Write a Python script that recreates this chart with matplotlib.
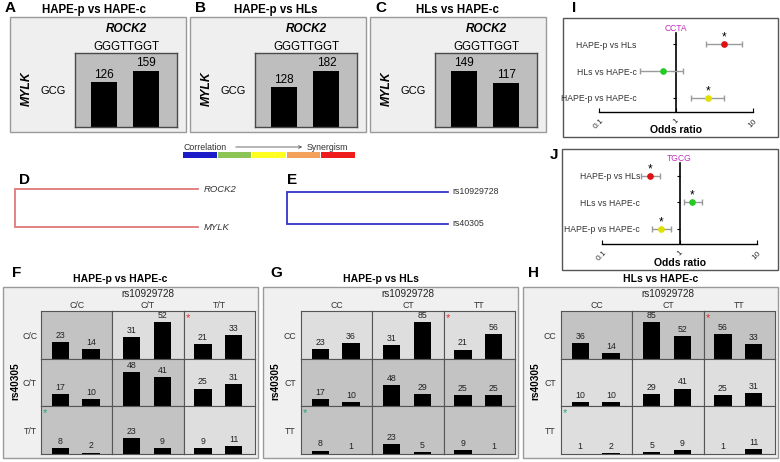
import matplotlib
matplotlib.use("Agg")
import matplotlib.pyplot as plt
from matplotlib.patches import Rectangle
import numpy as np

plt.rcParams['font.family'] = ['Liberation Sans', 'DejaVu Sans']

# ---------------- data ----------------
comparisons = ['HAPE-p vs HAPE-c', 'HAPE-p vs HLs', 'HLs vs HAPE-c']
hap_gene_col = 'ROCK2'
hap_gene_row = 'MYLK'
hap_col = 'GGGTTGGT'
hap_row = 'GCG'
hap_counts = [[126, 159], [128, 182], [149, 117]]

legend_left = 'Correlation'
legend_right = 'Synergism'
legend_colors = ['#1c1cc8', '#8cc455', '#ffff22', '#f4a15c', '#ee1c1c']

tree_D_leaves = ['ROCK2', 'MYLK']
tree_E_leaves = ['rs10929728', 'rs40305']

snp_col = 'rs10929728'
snp_row = 'rs40305'
geno_F = ['C/C', 'C/T', 'T/T']
geno_GH = ['CC', 'CT', 'TT']
counts_F = [[[23, 14], [31, 52], [21, 33]],
            [[17, 10], [48, 41], [25, 31]],
            [[8, 2], [23, 9], [9, 11]]]
counts_G = [[[23, 36], [31, 85], [21, 56]],
            [[17, 10], [48, 29], [25, 25]],
            [[8, 1], [23, 5], [9, 1]]]
counts_H = [[[36, 14], [85, 52], [56, 33]],
            [[10, 10], [29, 41], [25, 31]],
            [[1, 2], [5, 9], [1, 11]]]
shade_F = [[1, 0, 0], [1, 1, 0], [1, 1, 0]]
shade_G = [[0, 0, 0], [1, 1, 1], [1, 1, 1]]
shade_H = [[1, 1, 1], [0, 0, 0], [0, 0, 0]]

or_labels = ['HAPE-p vs HLs', 'HLs vs HAPE-c', 'HAPE-p vs HAPE-c']
or_colors = ['#e01010', '#22cc22', '#e0e000']
I_title = 'CCTA'
I_or = [4.2, 0.68, 2.6]
I_lo = [2.45, 0.34, 1.57]
I_hi = [7.2, 1.23, 4.2]
I_sig = [True, False, True]
J_title = 'TGCG'
J_or = [0.42, 1.45, 0.58]
J_lo = [0.32, 1.14, 0.44]
J_hi = [0.56, 1.95, 0.78]
J_sig = [True, True, True]
or_ticks = [0.1, 1, 10]
or_ticklabels = ['0.1', '1', '10']

# ---------------- helpers ----------------
W, H = 780, 462
fig = plt.figure(figsize=(7.8, 4.62), dpi=100)


def axes_px(x0, y0, x1, y1, **kw):
    return fig.add_axes([x0 / W, 1 - y1 / H, (x1 - x0) / W, (y1 - y0) / H], **kw)


def box_px(x0, y0, x1, y1, fc, ec, lw=1.0, z=0):
    fig.add_artist(Rectangle((x0 / W, 1 - y1 / H), (x1 - x0) / W, (y1 - y0) / H,
                             transform=fig.transFigure, facecolor=fc,
                             edgecolor=ec, lw=lw, zorder=z))


def txt(x, y, s, **kw):
    kw.setdefault('ha', 'center')
    kw.setdefault('va', 'center')
    fig.text(x / W, 1 - y / H, s, **kw)


def clean(ax):
    ax.set_xticks([])
    ax.set_yticks([])


# ---------------- panels A-C ----------------
letters_abc = ['A', 'B', 'C']
abc_x0 = [10, 190, 370]
abc_letter_x = [5, 195, 375]
abc_title_x = [94, 276, 458]
for k in range(3):
    x0 = abc_x0[k]
    box_px(x0, 17, x0 + 176, 132, '#efefef', '#9a9a9a', 1.0)
    txt(abc_letter_x[k], 8, letters_abc[k], ha='left', fontsize=11, fontweight='bold')
    txt(abc_title_x[k], 10, comparisons[k], fontsize=8.3, fontweight='bold')
    txt(x0 + 116, 29, hap_gene_col, fontsize=8.5, fontweight='bold', style='italic')
    txt(x0 + 116, 47, hap_col, fontsize=8.3)
    txt(x0 + 17, 89, hap_gene_row, fontsize=8.8, fontweight='bold', style='italic', rotation=90)
    txt(x0 + 43, 91, hap_row, fontsize=8)
    ax = axes_px(x0 + 65, 53, x0 + 167, 127)
    ax.set_facecolor('#bebebe')
    for s in ax.spines.values():
        s.set_color('#4a4a4a')
        s.set_linewidth(1.0)
    vals = hap_counts[k]
    ax.bar([0, 1], vals, width=0.607, color='black')
    ax.set_xlim(-0.667, 1.714)
    ax.set_ylim(0, max(vals) * 1.31)
    for i, v in enumerate(vals):
        ax.annotate(str(v), (i, v), xytext=(0, 1), textcoords='offset points',
                    ha='center', va='bottom', fontsize=8.5)
    clean(ax)

# ---------------- colour legend ----------------
txt(183, 147, legend_left, ha='left', fontsize=6.3, color='#333333')
txt(348, 147, legend_right, ha='right', fontsize=6.3, color='#333333')
fig.add_artist(matplotlib.patches.FancyArrowPatch(
    (233 / W, 1 - 147 / H), (305 / W, 1 - 147 / H), transform=fig.transFigure,
    arrowstyle='->', mutation_scale=5, lw=0.6, color='#555555'))
axl = axes_px(183, 152, 356, 158)
axl.bar(np.arange(len(legend_colors)), [1] * len(legend_colors), width=0.97,
        color=legend_colors, align='edge')
axl.set_xlim(0, len(legend_colors))
axl.set_ylim(0, 1)
axl.axis('off')

# ---------------- panels D, E (trees) ----------------
txt(19, 180, 'D', ha='left', fontsize=11, fontweight='bold')
axd = axes_px(15, 189, 198, 227)
axd.plot([1, 0, 0, 1], [1, 1, 0, 0], color='#e07878', lw=1.3, clip_on=False,
         solid_joinstyle='miter')
axd.set_xlim(0, 1)
axd.set_ylim(0, 1)
axd.axis('off')
for i, lab in enumerate(tree_D_leaves):
    axd.text(1.03, 1 - i, lab, transform=axd.transAxes, ha='left', va='center',
             fontsize=6.8, style='italic', color='#333333')

txt(287, 180, 'E', ha='left', fontsize=11, fontweight='bold')
axe = axes_px(287, 192, 448, 224)
axe.plot([1, 0, 0, 1], [1, 1, 0, 0], color='#3333cc', lw=1.3, clip_on=False,
         solid_joinstyle='miter')
axe.set_xlim(0, 1)
axe.set_ylim(0, 1)
axe.axis('off')
for i, lab in enumerate(tree_E_leaves):
    axe.text(1.025, 1 - i, lab, transform=axe.transAxes, ha='left', va='center',
             fontsize=6.3, color='#333333')

# ---------------- panels F, G, H ----------------
fgh = [('F', counts_F, shade_F, geno_F, 3, 120, 12, comparisons[0]),
       ('G', counts_G, shade_G, geno_GH, 263, 381, 270, comparisons[1]),
       ('H', counts_H, shade_H, geno_GH, 523, 661, 528, comparisons[2])]
row_edges = [311, 358.7, 406.3, 454]
dark, light = '#c3c3c3', '#dedede'
for letter, counts, shade, geno, x0, tx, lx, title in fgh:
    box_px(x0, 287, x0 + 255, 458, '#f0f0f0', '#9a9a9a', 1.0)
    txt(lx, 273, letter, ha='left', fontsize=11, fontweight='bold')
    txt(tx, 279, title, fontsize=7.5, fontweight='bold')
    gx0, gx1 = x0 + 38, x0 + 252
    cw = (gx1 - gx0) / 3
    txt((gx0 + gx1) / 2, 294, snp_col, fontsize=7.2, color='#222222')
    txt(x0 + 12, 381, snp_row, fontsize=7.3, fontweight='bold', rotation=90)
    pmax = max(max(max(c) for c in row) for row in counts)
    for c in range(3):
        txt(gx0 + cw * (c + 0.5), 306, geno[c], fontsize=6.3, color='#333333')
    for r in range(3):
        txt(x0 + 27, (row_edges[r] + row_edges[r + 1]) / 2 + 1.5, geno[r],
            fontsize=6.3, color='#333333')
        for c in range(3):
            ax = axes_px(gx0 + cw * c, row_edges[r], gx0 + cw * (c + 1), row_edges[r + 1])
            ax.set_facecolor(dark if shade[r][c] else light)
            for s in ax.spines.values():
                s.set_color('#555555')
                s.set_linewidth(0.8)
            vals = counts[r][c]
            ax.bar([0, 1], vals, width=0.56, color='black')
            ax.set_xlim(-0.628, 1.698)
            ax.set_ylim(0, pmax * 1.29)
            for i, v in enumerate(vals):
                ax.annotate(str(v), (i, v), xytext=(0, 1.5), textcoords='offset points',
                            ha='center', va='bottom', fontsize=6.3, color='#222222')
            clean(ax)
            if r == 0 and c == 2:
                ax.text(0.06, 0.86, '*', transform=ax.transAxes, color='#e03030',
                        fontsize=8, ha='center', va='center')
            if r == 2 and c == 0:
                ax.text(0.06, 0.86, '*', transform=ax.transAxes, color='#30a080',
                        fontsize=8, ha='center', va='center')


# ---------------- panels I, J (odds ratios) ----------------
def or_panel(letter, lxy, frame, axbox, title, ors, los, his, sig):
    fx0, fy0, fx1, fy1 = frame
    box_px(fx0, fy0, fx1, fy1, 'white', '#555555', 1.0)
    txt(lxy[0], lxy[1], letter, ha='left', fontsize=11, fontweight='bold')
    x0, y0, x1, y1 = axbox
    ax = axes_px(x0, y0, x1, y1)
    ax.patch.set_alpha(0)
    ypos = [3, 2, 1]
    ax.set_xscale('log')
    ax.set_xlim(0.1, 10)
    h = y1 - y0
    for i in range(3):
        ax.errorbar([ors[i]], [ypos[i]],
                    xerr=[[ors[i] - los[i]], [his[i] - ors[i]]],
                    fmt='o', ms=3.8, mfc=or_colors[i], mec=or_colors[i],
                    ecolor='#9a9a9a', elinewidth=1.0, capsize=2, capthick=1.0, zorder=3)
        if sig[i]:
            ax.annotate('*', (ors[i], ypos[i]), xytext=(0, 0.5), textcoords='offset points',
                        ha='center', va='bottom', fontsize=8.5)
    ax.spines['top'].set_visible(False)
    ax.spines['right'].set_visible(False)
    ax.spines['left'].set_position(('data', 1))
    ax.spines['left'].set_linewidth(1.2)
    ax.spines['bottom'].set_linewidth(1.0)
    ax.set_yticks(ypos)
    ax.set_yticklabels(or_labels, fontsize=6.2, color='#333333')
    ax.tick_params(axis='y', length=2.5, width=0.8, pad=26)
    ax.set_xticks(or_ticks)
    ax.set_xticklabels(or_ticklabels, rotation=45, fontsize=6, color='#333333')
    ax.minorticks_off()
    ax.tick_params(axis='x', direction='in', length=3, width=0.8, pad=4)
    ax.text(1, 1.0, title, transform=ax.get_xaxis_transform(), ha='center',
            va='bottom', fontsize=6.2, color='#c030c0')
    ax.text(0.5, -(fy1 - 7 - y1) / h, 'Odds ratio', transform=ax.transAxes,
            ha='center', va='center', fontsize=7.5, fontweight='bold')
    return ax


axI = or_panel('I', (572, 8), (563, 18, 778, 137), (599, 33, 753, 112),
               I_title, I_or, I_lo, I_hi, I_sig)
axI.set_ylim(0.48, 3.41)
axJ = or_panel('J', (550, 155), (562, 149, 778, 270), (602, 163, 757, 244),
               J_title, J_or, J_lo, J_hi, J_sig)
axJ.set_ylim(0.434, 3.49)

fig.savefig('out.png', dpi=100)
